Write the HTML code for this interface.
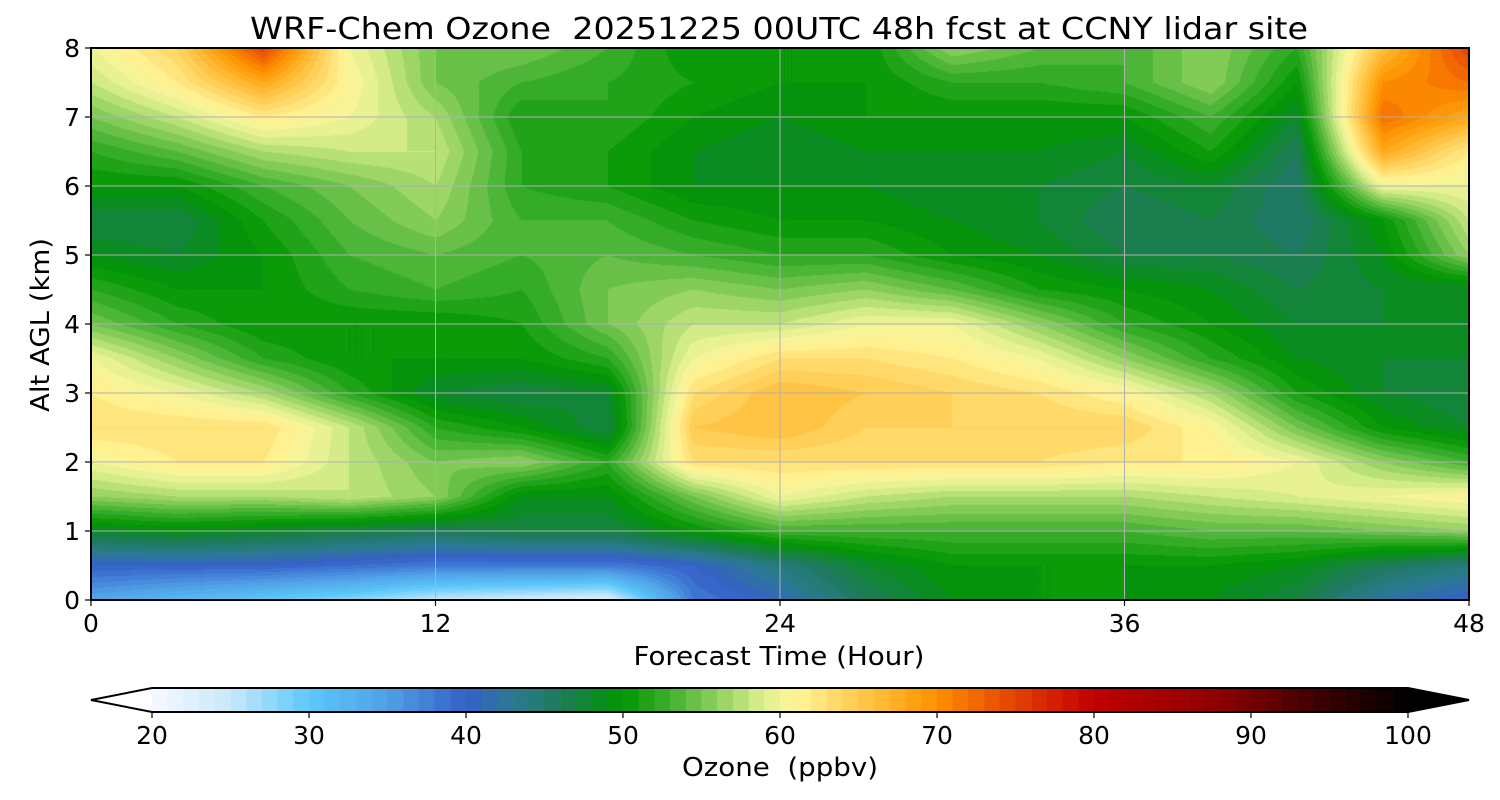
<!DOCTYPE html>
<html><head><meta charset="utf-8">
<style>
body{margin:0;background:#fff;width:1500px;height:800px;overflow:hidden;position:relative;font-family:"DejaVu Sans","Liberation Sans",sans-serif;}
canvas,svg{position:absolute;left:0;top:0;}
</style></head>
<body>
<canvas id="plot" width="1500" height="800"></canvas>
<svg id="ov" width="1500" height="800" font-family="DejaVu Sans, sans-serif"></svg>
<script>
// Data: ozone (ppbv) at times (hours) x altitudes (km)
const times = [0,3,6,9,12,15,18,21,24,27,30,33,36,39,42,45,48];
const alts = [0,0.5,1,1.5,2,2.5,3,3.5,4,4.5,5,5.5,6,6.5,7,7.5,8];
const ozone = [
[34,32,30,28,25,24,23,38,41,46,49,50,50,49,47,42,40],
[40,40,40,39,38,38,38,40,44,48,50,50,50,50,49,46,44],
[48,49,48,47,46,47,47,50,53,53,53,53,53,54,54,55,56],
[56,57,57,58,56,49,49,55,60,58,57,57,57,58,59,60,61],
[60,62,62,58,55,56,52,63,63,63,63,63,62,62,60,56,53],
[63,63,63,58,52,50,47,65,66,64,64,64,64,61,55,50,48],
[62,60,57,52,48,47,48,63,66,65,64,63,61,57,51,48,47],
[60,56,52,50,50,50,52,60,63,63,62,60,56,52,49,48,48],
[55,52,50,50,50,51,55,58,58,60,60,56,52,50,48,48,48],
[52,50,50,52,53,52,55,56,55,56,54,51,50,49,47,48,48],
[49,48,50,53,54,53,54,53,52,52,50,49,47,47,46,49,56],
[47,47,51,54,56,53,53,51,50,50,49,48,46,47,45,50,58],
[50,50,53,55,57,52,51,49,49,49,48,48,47,48,45,60,60],
[52,54,57,58,58,52,51,49,48,49,49,49,48,51,46,68,62],
[55,58,62,60,57,51,52,50,49,50,50,50,50,53,48,72,68],
[58,62,68,61,55,53,52,51,50,50,52,52,53,56,50,70,72],
[60,64,75,60,55,55,53,50,50,50,56,54,53,56,52,66,75]
];
const xTicks = [0,12,24,36,48];
const yTicks = [0,1,2,3,4,5,6,7,8];
const cbTicks = [20,30,40,50,60,70,80,90,100];

const X0=91,X1=1469,Y0=600,Y1=48;
const xs=t=>X0+(t-0)/48*(X1-X0);
const ys=z=>Y0-(z/8)*(Y0-Y1);
const CB0=152,CB1=1408;
const cbx=v=>CB0+(v-20)/80*(CB1-CB0);

const stops=[[20,'#f5faff'],[25,'#c8e8fb'],[30,'#5cc8fa'],[35,'#50a0e6'],[40,'#3560c8'],[43,'#2a7a90'],[46,'#1e7a5a'],[50,'#009600'],[53,'#40b030'],[56,'#90d060'],[59,'#e0f090'],[61,'#fff59a'],[64,'#ffd560'],[68,'#ffa818'],[70,'#ff9000'],[74,'#e85000'],[78,'#d01800'],[80,'#c00000'],[88,'#8c0000'],[94,'#400000'],[100,'#000000']];
function hex(h){return [parseInt(h.substr(1,2),16),parseInt(h.substr(3,2),16),parseInt(h.substr(5,2),16)];}
function cmap(v){
  v=Math.max(20,Math.min(100,v));
  for(let i=0;i<stops.length-1;i++){
    const [a,ca]=stops[i],[b,cb]=stops[i+1];
    if(v<=b){const f=(v-a)/(b-a),A=hex(ca),B=hex(cb);return A.map((c,k)=>Math.round(c+(B[k]-c)*f));}
  }
  return [0,0,0];
}
function interp(t,z){
  let i=0;while(i<times.length-2&&t>times[i+1])i++;
  let j=0;while(j<alts.length-2&&z>alts[j+1])j++;
  const ft=(t-times[i])/(times[i+1]-times[i]),fz=(z-alts[j])/(alts[j+1]-alts[j]);
  const a=ozone[j][i],b=ozone[j][i+1],c=ozone[j+1][i],d=ozone[j+1][i+1];
  return (a*(1-ft)+b*ft)*(1-fz)+(c*(1-ft)+d*ft)*fz;
}
const cv=document.getElementById('plot'),ctx=cv.getContext('2d');
ctx.fillStyle='#fff';ctx.fillRect(0,0,1500,800);
const W=Math.round(X1-X0),H=Math.round(Y0-Y1);
const img=ctx.createImageData(W,H);
for(let py=0;py<H;py++){const z=(H-py-0.5)/H*8;
  for(let px=0;px<W;px++){const t=(px+0.5)/W*48;
    const v=Math.floor(interp(t,z));const c=cmap(v+0.5);const k=(py*W+px)*4;
    img.data[k]=c[0];img.data[k+1]=c[1];img.data[k+2]=c[2];img.data[k+3]=255;}}
ctx.putImageData(img,X0,Y1);
for(let v=20;v<100;v++){const c=cmap(v+0.5);ctx.fillStyle=`rgb(${c})`;ctx.fillRect(cbx(v),688,cbx(v+1)-cbx(v)+0.6,24);}
ctx.fillStyle='#000';ctx.beginPath();ctx.moveTo(CB1,688);ctx.lineTo(1469,700);ctx.lineTo(CB1,712);ctx.fill();

const svg=document.getElementById('ov');const NS='http://www.w3.org/2000/svg';
function el(tag,attrs,txt){const e=document.createElementNS(NS,tag);for(const k in attrs)e.setAttribute(k,attrs[k]);if(txt!==undefined)e.textContent=txt;svg.appendChild(e);return e;}
xTicks.forEach(t=>{
  const g=el('line',{x1:xs(t),x2:xs(t),y1:Y1,y2:Y0,stroke:'#b0b0b0','stroke-width':1});
  
  
  el('line',{x1:xs(t),x2:xs(t),y1:Y0,y2:Y0+6,stroke:'#000','stroke-width':1.2});
  const l=el('text',{x:xs(t),y:632,'text-anchor':'middle','font-size':25},String(t));
  
  
});
yTicks.forEach(z=>{
  const g=el('line',{x1:X0,x2:X1,y1:ys(z),y2:ys(z),stroke:'#b0b0b0','stroke-width':1});
  
  
  el('line',{x1:X0-6,x2:X0,y1:ys(z),y2:ys(z),stroke:'#000','stroke-width':1.2});
  const l=el('text',{x:80,y:ys(z)+9,'text-anchor':'end','font-size':25},String(z));
  
  
});
const fr=el('rect',{x:X0,y:Y1,width:X1-X0,height:Y0-Y1,fill:'none',stroke:'#000','stroke-width':2});


const cbo=el('path',{d:`M${CB0},688 L${CB1},688 L1469,700 L${CB1},712 L${CB0},712 L91,700 Z`,fill:'none',stroke:'#000','stroke-width':2});


cbTicks.forEach(v=>{
  el('line',{x1:cbx(v),x2:cbx(v),y1:712,y2:718,stroke:'#000','stroke-width':1.2});
  const l=el('text',{x:cbx(v),y:744,'text-anchor':'middle','font-size':25},String(v));
  
  
});
</script>
<svg width="1500" height="800" style="position:absolute;left:0;top:0" font-family="DejaVu Sans, sans-serif">
<text x="779" y="39" text-anchor="middle" font-size="30" textLength="1058" lengthAdjust="spacingAndGlyphs" xml:space="preserve">WRF-Chem Ozone  20251225 00UTC 48h fcst at CCNY lidar site</text>
<text x="779" y="665" text-anchor="middle" font-size="26" textLength="291" lengthAdjust="spacingAndGlyphs">Forecast Time (Hour)</text>
<text transform="translate(49,325) rotate(-90)" text-anchor="middle" font-size="26" textLength="174" lengthAdjust="spacingAndGlyphs">Alt AGL (km)</text>
<text x="780" y="776" text-anchor="middle" font-size="26" textLength="196" lengthAdjust="spacingAndGlyphs" xml:space="preserve">Ozone  (ppbv)</text>
</svg>
</body></html>
